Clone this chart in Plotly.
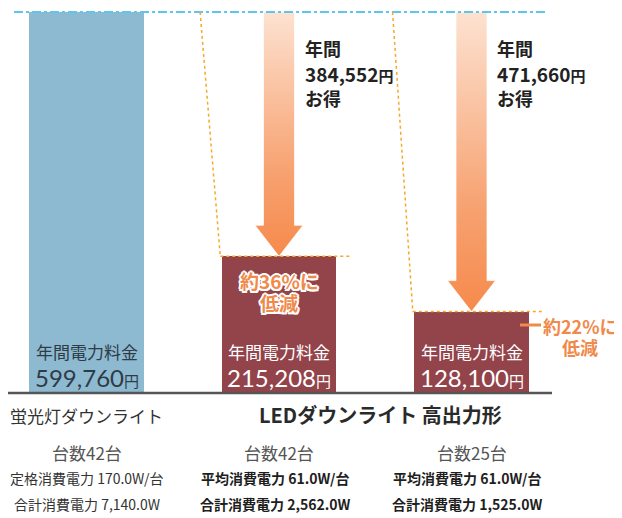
import plotly.graph_objects as go

# ---------------- data ----------------
bar_keys = ["fluorescent", "led_42", "led_25"]
annual_cost = [599760, 215208, 128100]          # 年間電力料金 (円)
unit_counts = [42, 42, 25]                       # 台数
power_label = ["定格消費電力", "平均消費電力", "平均消費電力"]
power_per_unit = [170.0, 61.0, 61.0]             # W/台
total_power = [7140.0, 2562.0, 1525.0]           # W
reduction_labels = ["約36%に", "約22%に"]
group_titles = ["蛍光灯ダウンライト", "LEDダウンライト 高出力形"]
cost_title = "年間電力料金"

# ---------------- layout geometry (reference pixels) ----------------
W, H = 622, 518
OFF = 8                     # page body margin of the rendered page
BASE_PX, TOP_PX = 393, 12
C0_PX, STEP_PX = 86.5, 192.5
FONT = "Noto Sans CJK JP, Noto Sans, sans-serif"
NUMFONT = "Lato, Noto Sans CJK JP, sans-serif"

ymax = annual_cost[0]
ypp = ymax / (BASE_PX - TOP_PX)
y_range = [-(H + OFF - BASE_PX) * ypp, ymax + (TOP_PX - OFF) * ypp]
xr0 = (OFF - C0_PX) / STEP_PX
x_range = [xr0, xr0 + W / STEP_PX]


def X(px):
    return (px - C0_PX) / STEP_PX


def Y(py):
    return (BASE_PX - py) * ypp


BLUE = "#8DBAD0"
MAROON = "#93434A"
ORANGE = "#F08A4B"
DOT = "#F7A824"

xs_cat = list(range(len(annual_cost)))
fig = go.Figure()
fig.add_trace(go.Bar(
    x=xs_cat, y=annual_cost, width=0.595,
    marker=dict(color=[BLUE, MAROON, MAROON], line=dict(width=0)),
    hoverinfo="skip", showlegend=False))

# arrows (savings)
shaft_half = 15.5 / STEP_PX
head_half = 24 / STEP_PX
head_h = 31 * ypp
for i in range(1, len(annual_cost)):
    tip = annual_cost[i]
    top = ymax
    ax = [i - shaft_half, i + shaft_half, i + shaft_half, i + head_half, i,
          i - head_half, i - shaft_half, i - shaft_half]
    ay = [top, top, tip + head_h, tip + head_h, tip, tip + head_h, tip + head_h, top]
    fig.add_trace(go.Scatter(
        x=ax, y=ay, mode="lines", fill="toself",
        line=dict(color="rgba(255,255,255,0.7)", width=1),
        fillgradient=dict(type="vertical",
                          colorscale=[[0, "#F68A4C"], [0.35, "#F7A271"], [1, "#FDE2D1"]]),
        hoverinfo="skip", showlegend=False))

shapes = []
# blue reference line
shapes.append(dict(type="line", xref="x", yref="y", x0=X(14), x1=X(545), y0=ymax, y1=ymax,
                   line=dict(color="#5CC6EE", width=2, dash="dashdot")))
# dotted guide lines
for i in range(1, len(annual_cost)):
    v = annual_cost[i]
    shapes.append(dict(type="line", xref="x", yref="y", x0=i - 1 + 0.59, x1=i - 0.305,
                       y0=ymax, y1=v, line=dict(color=DOT, width=1.5, dash="dot")))
    shapes.append(dict(type="line", xref="x", yref="y", x0=i - 0.305, x1=i + 0.372,
                       y0=v, y1=v, line=dict(color=DOT, width=1.5, dash="dot")))
# baseline
shapes.append(dict(type="line", xref="x", yref="y", x0=X(6), x1=X(552), y0=0, y1=0,
                   line=dict(color="#555555", width=2.5)))
# small orange connector for 22%
shapes.append(dict(type="line", xref="x", yref="y", x0=X(520), x1=X(541),
                   y0=Y(325), y1=Y(325), line=dict(color=ORANGE, width=3)))

ann = []


def A(x, y, text, size, color="#333333", weight="normal", xanchor="center", shadow=None, family=FONT):
    f = dict(family=family, size=size, color=color, weight=weight)
    if shadow:
        f["shadow"] = shadow
    ann.append(dict(x=x, y=y, xref="x", yref="y", text=text, showarrow=False,
                    xanchor=xanchor, yanchor="middle", font=f))


# in-bar cost labels
for i, v in enumerate(annual_cost):
    col = "#2F3B46" if i == 0 else "#FFFFFF"
    A(i, Y(351), cost_title, 17, col)
    A(i, Y(377), f"{v:,}<span style='font-size:15px'>円</span>", 24, col, family=NUMFONT)

# savings text
for i in range(1, len(annual_cost)):
    save = annual_cost[0] - annual_cost[i]
    xl = i + 23.5 / STEP_PX
    A(xl, Y(48), "年間", 18, "#222222", "bold", "left")
    A(xl, Y(73), f"{save:,}<span style='font-size:15px'>円</span>", 19, "#222222", "bold", "left")
    A(xl, Y(98), "お得", 18, "#222222", "bold", "left")

# reduction labels
outline = ("2px 0 0 #fff, -2px 0 0 #fff, 0 2px 0 #fff, 0 -2px 0 #fff, "
           "1.5px 1.5px 0 #fff, -1.5px -1.5px 0 #fff, 1.5px -1.5px 0 #fff, -1.5px 1.5px 0 #fff")
A(1, Y(280), reduction_labels[0], 19, ORANGE, "bold", shadow=outline)
A(1, Y(302), "低減", 19, ORANGE, "bold", shadow=outline)
A(X(580), Y(326), reduction_labels[1], 18, ORANGE, "bold")
A(X(580), Y(347), "低減", 18, ORANGE, "bold")

# category labels below
A(0, Y(415), group_titles[0], 17, "#333333")
A(X(380), Y(414), group_titles[1], 20, "#2a2a2a", "bold")
for i in range(len(annual_cost)):
    bold = "normal" if i == 0 else "bold"
    col = "#333333" if i == 0 else "#1e1e1e"
    dx = 0.0 if i == 0 else -0.02
    A(i, Y(452), f"台数{unit_counts[i]}台", 17, "#555555")
    A(i + dx, Y(478), f"{power_label[i]} {power_per_unit[i]:.1f}W/台", 14, col, bold)
    A(i + dx, Y(504), f"合計消費電力 {total_power[i]:,.1f}W", 14, col, bold)

fig.update_layout(
    width=W, height=H, margin=dict(l=0, r=0, t=0, b=0),
    paper_bgcolor="white", plot_bgcolor="white",
    xaxis=dict(range=x_range, visible=False, fixedrange=True),
    yaxis=dict(range=y_range, visible=False, fixedrange=True),
    shapes=shapes, annotations=ann, showlegend=False, bargap=0,
    font=dict(family=FONT),
)
fig.write_html("out.html")
